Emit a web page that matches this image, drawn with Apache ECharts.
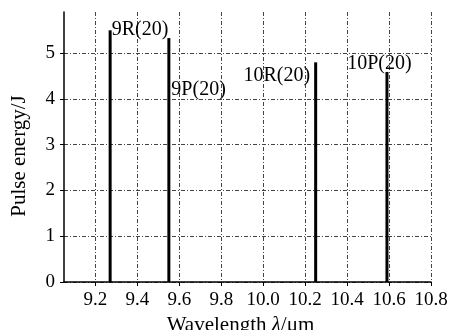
<!DOCTYPE html>
<html>
<head>
<meta charset="utf-8">
<script src="https://cdn.jsdelivr.net/npm/echarts@6/dist/echarts.min.js"></script>
<style>
    html, body { margin: 0; padding: 0; background: #fff; }
    #chart { width: 449px; height: 330px; }
</style>
</head>
<body>
<div id="chart"></div>
<script>
    // 数据
    var lineNames = ['9R(20)', '9P(20)', '10R(20)', '10P(20)'];
    var wavelengths = [9.27, 9.55, 10.25, 10.59];
    var energies = [5.50, 5.33, 4.80, 4.59];
    var xTicks = [9.2, 9.4, 9.6, 9.8, 10.0, 10.2, 10.4, 10.6, 10.8];
    var yTicks = [0, 1, 2, 3, 4, 5];

    // 每个标签的位置
    var labelPos = [
        { position: [3, -1], align: 'left' },
        { position: [4, 52], align: 'left' },
        { position: [-4, 13], align: 'right' },
        { position: [-6, -8], align: 'center' }
    ];

    var font = 'Liberation Serif';
    var gridLine = { show: true, lineStyle: { color: '#444', width: 1, type: [4, 2, 1, 2] } };

    var data = [];
    for (var i = 0; i < wavelengths.length; i++) {
        data.push({
            value: [wavelengths[i], energies[i]],
            name: lineNames[i],
            label: {
                show: true,
                formatter: '{b}',
                position: labelPos[i].position,
                align: labelPos[i].align,
                verticalAlign: 'middle',
                color: '#000',
                fontFamily: font,
                fontSize: 20
            }
        });
    }

    var myChart = echarts.init(document.getElementById('chart'));
    myChart.setOption({
        animation: false,
        grid: { left: 64, right: 18, top: 12, bottom: 48, containLabel: false, outerBoundsMode: 'none' },
        xAxis: {
            type: 'value',
            min: 9.05,
            max: 10.8,
            name: 'Wavelength {i|λ}/μm',
            nameLocation: 'middle',
            nameGap: 31,
            nameTextStyle: {
                color: '#000', fontFamily: font, fontSize: 21,
                padding: [0, 14, 0, 0],
                rich: { i: { fontStyle: 'italic', fontFamily: font, fontSize: 21, color: '#000' } }
            },
            axisLine: { onZero: false, lineStyle: { color: '#000', width: 1.5 } },
            axisTick: { customValues: xTicks, length: 4, lineStyle: { color: '#000' } },
            axisLabel: {
                customValues: xTicks,
                color: '#000', fontFamily: font, fontSize: 19, margin: 9,
                formatter: function (v) { return v.toFixed(1); }
            },
            splitLine: gridLine
        },
        yAxis: {
            type: 'value',
            min: 0,
            max: 5.9,
            name: 'Pulse energy/J',
            nameLocation: 'middle',
            nameGap: 34,
            nameTextStyle: { color: '#000', fontFamily: font, fontSize: 21, padding: [0, 18, 0, 0] },
            axisLine: { show: true, lineStyle: { color: '#000', width: 1.5 } },
            axisTick: { show: true, customValues: yTicks, length: 4, lineStyle: { color: '#000' } },
            axisLabel: { customValues: yTicks, color: '#000', fontFamily: font, fontSize: 19, margin: 9 },
            splitLine: gridLine
        },
        series: [
            {
                type: 'bar',
                barWidth: 3,
                itemStyle: { color: '#000' },
                data: data
            }
        ]
    });
</script>
</body>
</html>
